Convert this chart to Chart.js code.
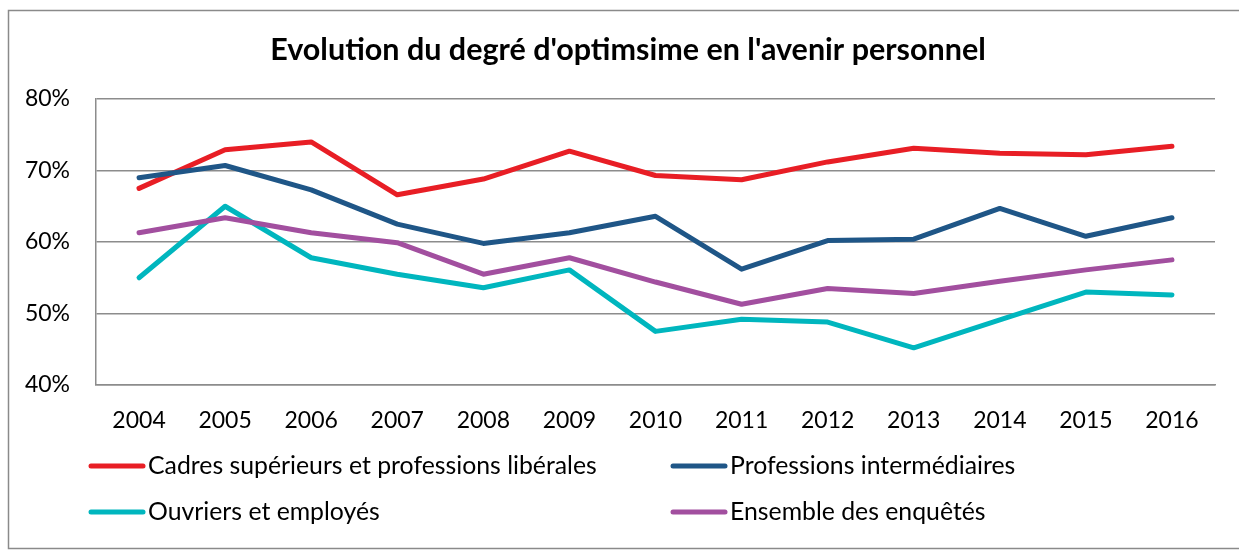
<!DOCTYPE html>
<html>
<head>
<meta charset="utf-8">
<script src="https://cdn.jsdelivr.net/npm/chart.js@4"></script>
<style>
  html, body { margin: 0; padding: 0; background: #fff; }
  #wrap { width: 1239px; height: 552px; position: relative; }
</style>
</head>
<body>
<div id="wrap"><canvas id="c" width="1239" height="552"></canvas></div>
<script>
const years = ['2004','2005','2006','2007','2008','2009','2010','2011','2012','2013','2014','2015','2016'];
const cadres = [67.5, 72.9, 74.0, 66.6, 68.8, 72.7, 69.3, 68.7, 71.2, 73.1, 72.4, 72.2, 73.4];
const intermediaires = [69.0, 70.7, 67.3, 62.5, 59.8, 61.3, 63.6, 56.2, 60.2, 60.4, 64.7, 60.8, 63.4];
const ouvriers = [55.0, 65.0, 57.8, 55.5, 53.6, 56.1, 47.5, 49.2, 48.8, 45.2, 49.1, 53.0, 52.6];
const ensemble = [61.3, 63.4, 61.3, 59.9, 55.5, 57.8, 54.4, 51.3, 53.5, 52.8, 54.5, 56.1, 57.5];
const seriesNames = ['Cadres supérieurs et professions libérales', 'Professions intermédiaires', 'Ouvriers et employés', 'Ensemble des enquêtés'];
const seriesColors = ['#E81E25', '#1F5687', '#00B6BE', '#A24F9F'];
const yTicks = [40, 50, 60, 70, 80];
const titleText = "Evolution du degré d'optimsime en l'avenir personnel";

const FONT = 'Lato, "Open Sans", sans-serif';
const gridColor = '#8c8c8c';

const frame = {
  id: 'frame',
  beforeDraw(chart) {
    const ctx = chart.ctx;
    ctx.save();
    ctx.fillStyle = '#fff';
    ctx.fillRect(0, 0, chart.width, chart.height);
    ctx.strokeStyle = '#8a8a8a';
    ctx.lineWidth = 1.5;
    ctx.strokeRect(8.5, 10.5, 1250, 538);
    ctx.restore();
  }
};

const titleDraw = {
  id: 'titleDraw',
  afterDraw(chart) {
    const ctx = chart.ctx;
    ctx.save();
    ctx.font = 'bold 30.5px ' + FONT;
    ctx.fillStyle = '#000';
    ctx.textAlign = 'center';
    ctx.textBaseline = 'middle';
    ctx.fillText(titleText, 628, 50);
    ctx.restore();
  }
};

const customLegend = {
  id: 'customLegend',
  afterDraw(chart) {
    const ctx = chart.ctx;
    const cols = [88, 670];
    const rows = [466, 512];
    ctx.save();
    ctx.font = '24.8px ' + FONT;
    ctx.textBaseline = 'middle';
    chart.data.datasets.forEach((ds, i) => {
      const x = cols[i % 2];
      const y = rows[Math.floor(i / 2)];
      ctx.strokeStyle = ds.borderColor;
      ctx.lineWidth = 5;
      ctx.lineCap = 'round';
      ctx.beginPath();
      ctx.moveTo(x + 3, y);
      ctx.lineTo(x + 55, y);
      ctx.stroke();
      ctx.fillStyle = '#000';
      ctx.fillText(ds.label, x + 60, y);
    });
    ctx.restore();
  }
};

const dataSeries = [cadres, intermediaires, ouvriers, ensemble];
new Chart(document.getElementById('c'), {
  type: 'line',
  data: {
    labels: years,
    datasets: dataSeries.map((d, i) => ({
      label: seriesNames[i],
      data: d,
      borderColor: seriesColors[i],
      backgroundColor: seriesColors[i],
      borderWidth: 5,
      pointRadius: 0,
      tension: 0,
      borderCapStyle: 'round',
      borderJoinStyle: 'round',
      order: 4 - i
    }))
  },
  options: {
    responsive: false,
    animation: false,
    layout: { padding: { left: 0, right: 24, top: 99, bottom: 100 } },
    plugins: {
      legend: { display: false },
      tooltip: { enabled: false },
      title: { display: false }
    },
    scales: {
      x: {
        offset: true,
        grid: { display: false, drawTicks: false },
        border: { display: true, color: gridColor, width: 1.5 },
        ticks: { color: '#000', font: { family: FONT, size: 23 }, padding: 22, maxRotation: 0 },
        afterFit(s) { s.height = 67; }
      },
      y: {
        min: 40, max: 80,
        afterBuildTicks(s) { s.ticks = yTicks.map(v => ({ value: v })); },
        grid: { color: gridColor, lineWidth: 1.5, drawTicks: false },
        border: { display: true, color: gridColor, width: 1.5 },
        ticks: { color: '#000', font: { family: FONT, size: 23 }, padding: 26, callback: v => v + '%' },
        afterFit(s) { s.width = 96; }
      }
    }
  },
  plugins: [frame, titleDraw, customLegend]
});
</script>
</body>
</html>
